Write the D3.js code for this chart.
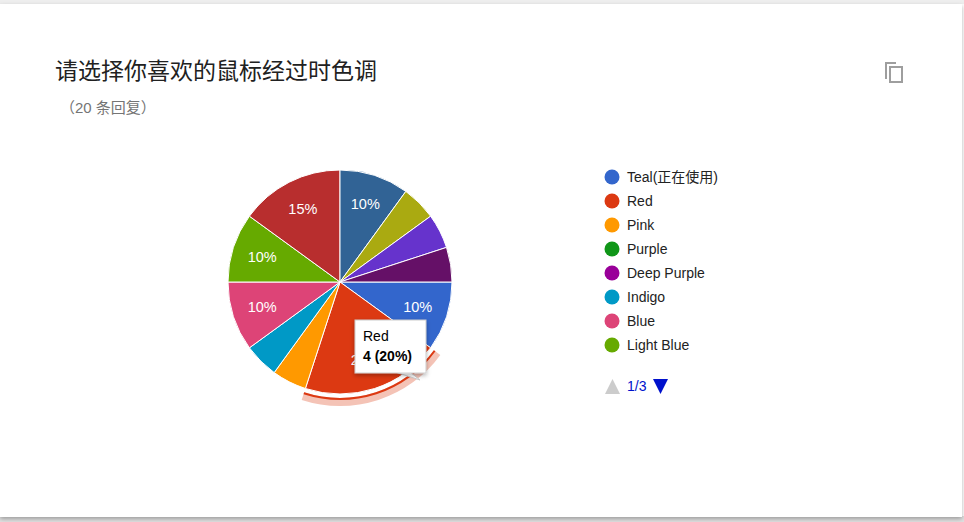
<!DOCTYPE html>
<html><head><meta charset="utf-8">
<script src="https://cdn.jsdelivr.net/npm/d3@7"></script>
<style>
body{margin:0;background:#fff;font-family:Arial,"Liberation Sans","Noto Sans CJK SC",sans-serif;}
</style></head>
<body><svg id="chart" width="964" height="522"></svg>
<script>
var names = ["Teal(正在使用)","Red","Pink","Purple","Deep Purple","Indigo","Blue","Light Blue","Option 9","Option 10","Option 11","Option 12","Option 13","Option 14","Option 15","Option 16","Option 17"];
var counts = [2,4,1,0,0,1,2,2,3,2,0,0,1,1,0,0,1];
var colors = ["#3366cc","#dc3912","#ff9900","#109618","#990099","#0099c6","#dd4477","#66aa00","#b82e2e","#316395","#994499","#22aa99","#aaaa11","#6633cc","#e67300","#8b0707","#651067"];
var legendShown = 8;

var svg = d3.select("#chart");
var defs = svg.append("defs");
var f = defs.append("filter").attr("id","sh").attr("x","-20%").attr("y","-20%").attr("width","140%").attr("height","150%");
f.append("feDropShadow").attr("dx",0).attr("dy",2).attr("stdDeviation",2).attr("flood-opacity",0.3);

// card
svg.append("rect").attr("x",0).attr("y",0).attr("width",964).attr("height",4).attr("fill","#eeeeee");
svg.append("rect").attr("x",0).attr("y",516).attr("width",964).attr("height",6).attr("fill","#e0e0e0");
svg.append("rect").attr("x",0).attr("y",4).attr("width",962).attr("height",513).attr("fill","#fff").attr("filter","url(#sh)");

svg.append("text").attr("x",55).attr("y",79).attr("font-size",23).attr("fill","#212121").text("请选择你喜欢的鼠标经过时色调");
svg.append("text").attr("x",60).attr("y",113).attr("font-size",15).attr("fill","#757575").text("（20 条回复）");

// copy icon
var ic = svg.append("g").attr("fill","none").attr("stroke","#9e9e9e").attr("stroke-width",2);
ic.append("path").attr("d","M896 63 H886 V79");
ic.append("rect").attr("x",890).attr("y",67).attr("width",12).attr("height",15);

var cx = 340, cy = 282, r = 112;
var total = d3.sum(counts);
var pie = d3.pie().sort(null).startAngle(Math.PI/2).endAngle(Math.PI/2 + 2*Math.PI).value(function(d){return d;});
var arcs = pie(counts);
var arc = d3.arc().innerRadius(0).outerRadius(r);
var g = svg.append("g").attr("transform","translate("+cx+","+cy+")");

// highlight ring for Red
var red = arcs[1];
g.append("path").attr("d", d3.arc().innerRadius(r+4).outerRadius(r+12)(red)).attr("fill","#f4c3b6");
g.append("path").attr("d", d3.arc().innerRadius(r+4).outerRadius(r+6)(red)).attr("fill","#dc3912");

g.selectAll("path.s").data(arcs.filter(function(d){return d.value>0;})).enter().append("path")
  .attr("class","s").attr("d",arc)
  .attr("fill",function(d){return colors[d.index];})
  .attr("stroke","#fff").attr("stroke-width",1);

var lab = d3.arc().innerRadius(r*0.73).outerRadius(r*0.73);
g.selectAll("text.l").data(arcs.filter(function(d){return d.value/total>=0.1;})).enter().append("text")
  .attr("class","l").attr("transform",function(d){return "translate("+lab.centroid(d)+")";})
  .attr("text-anchor","middle").attr("dy","0.35em").attr("font-size",14.5).attr("fill","#fff")
  .text(function(d){return Math.round(d.value/total*100)+"%";});

// tooltip
var tt = svg.append("g");
tt.append("path").attr("d","M395 372 L420 380 L410 372 Z").attr("fill","#fff").attr("stroke","#ccc");
tt.append("rect").attr("x",355).attr("y",320).attr("width",71).attr("height",53).attr("fill","#fff").attr("stroke","#ccc").attr("filter","url(#sh)");
tt.append("text").attr("x",363).attr("y",341).attr("font-size",14).attr("fill","#000").text(names[1]);
tt.append("text").attr("x",363).attr("y",361).attr("font-size",14).attr("font-weight","bold").attr("fill","#000")
  .text(counts[1]+" ("+Math.round(counts[1]/total*100)+"%)");

// legend
var y = d3.scaleBand().domain(d3.range(legendShown)).range([165,357]);
var lg = svg.selectAll("g.lg").data(d3.range(legendShown)).enter().append("g").attr("class","lg")
  .attr("transform",function(i){return "translate(612,"+(y(i)+y.bandwidth()/2)+")";});
lg.append("circle").attr("r",7.5).attr("fill",function(i){return colors[i];});
lg.append("text").attr("x",15).attr("dy","0.35em").attr("font-size",14).attr("fill","#222").text(function(i){return names[i];});

svg.append("path").attr("d","M605 394 L620 394 L612.5 379 Z").attr("fill","#cccccc");
svg.append("text").attr("x",627).attr("y",391).attr("font-size",14).attr("fill","#0011cc").text("1/3");
svg.append("path").attr("d","M653 379 L668 379 L660.5 394 Z").attr("fill","#0011cc");
</script></body></html>
